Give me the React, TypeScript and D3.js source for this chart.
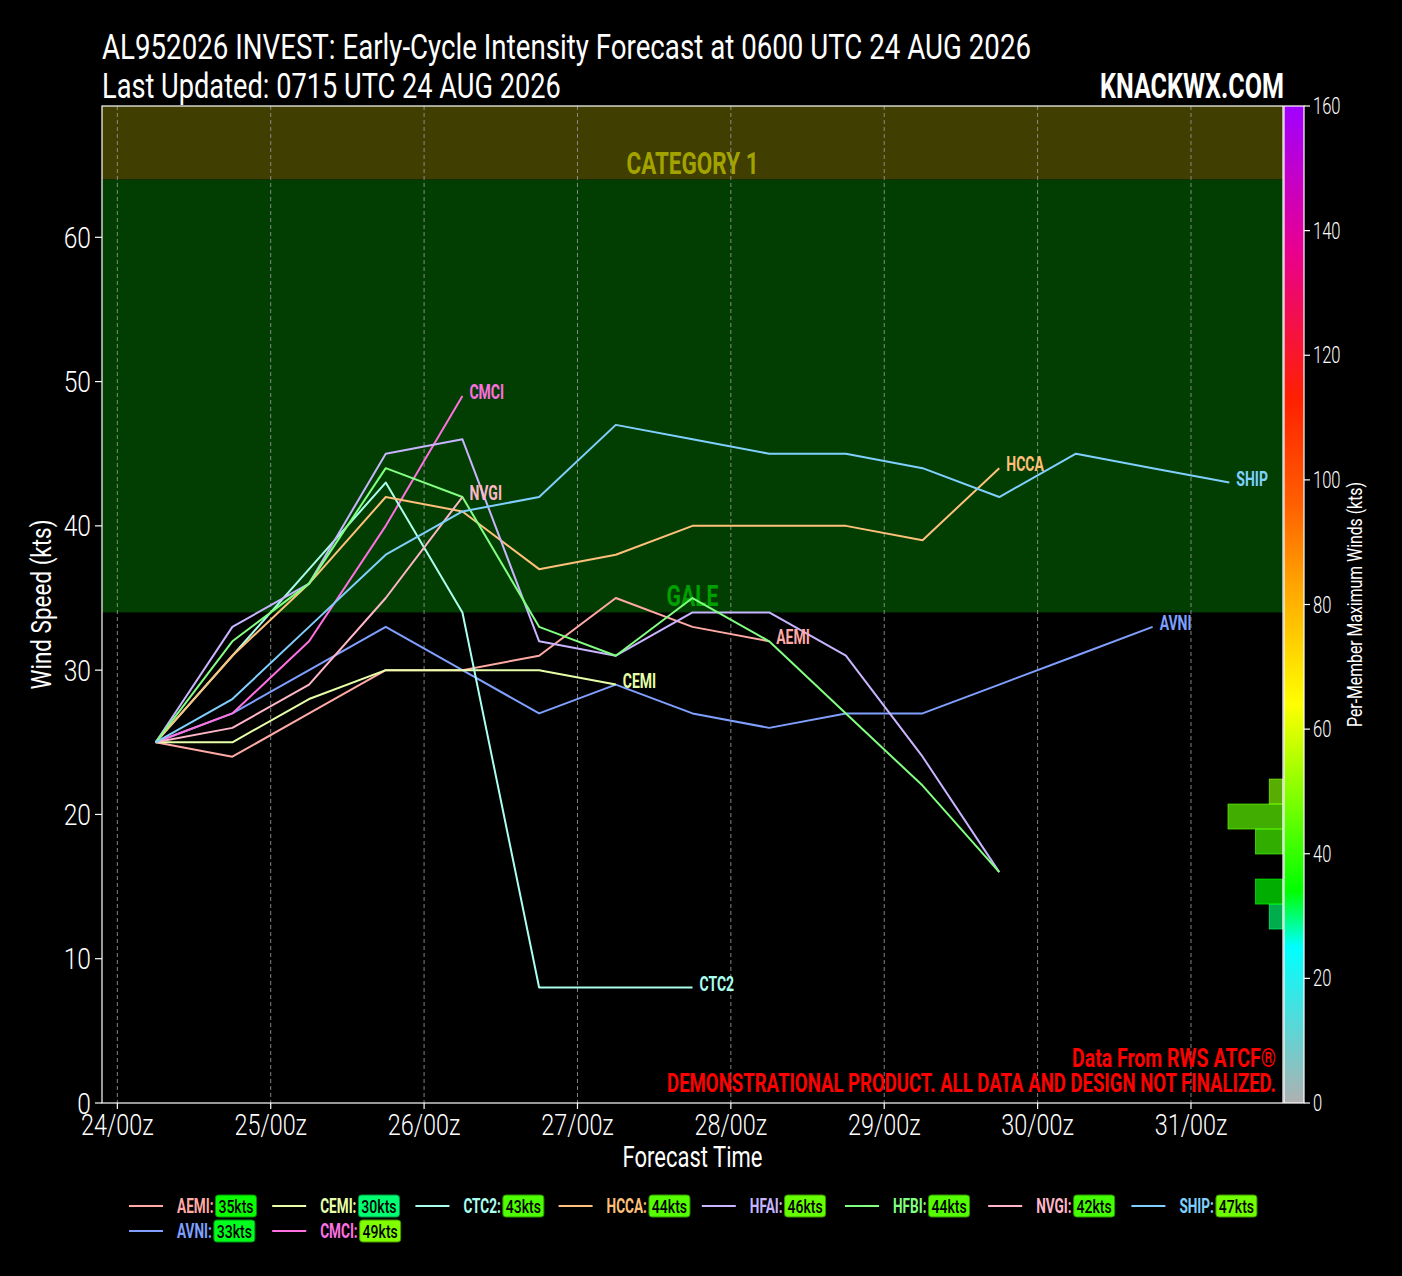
import React from "react";
import * as d3 from "d3";

// ---------- DATA ----------
const MODELS = ["AEMI", "AVNI", "CEMI", "CMCI", "CTC2", "HCCA", "HFAI", "HFBI", "NVGI", "SHIP"];
const LEAD_HOURS = [0, 12, 24, 36, 48, 60, 72, 84, 96, 108, 120, 132, 144, 156, 168];
const AEMI = [25, 24, 27, 30, 30, 31, 35, 33, 32];
const AVNI = [25, 27, 30, 33, 30, 27, 29, 27, 26, 27, 27, 29, 31, 33];
const CEMI = [25, 25, 28, 30, 30, 30, 29];
const CMCI = [25, 27, 32, 40, 49];
const CTC2 = [25, 31, 37, 43, 34, 8, 8, 8];
const HCCA = [25, 31, 36, 42, 41, 37, 38, 40, 40, 40, 39, 44];
const HFAI = [25, 33, 36, 45, 46, 32, 31, 34, 34, 31, 24, 16];
const HFBI = [25, 32, 36, 44, 42, 33, 31, 35, 32, 27, 22, 16];
const NVGI = [25, 26, 29, 35, 42];
const SHIP = [25, 28, 33, 38, 41, 42, 47, 46, 45, 45, 44, 42, 45, 44, 43];
const SERIES = [AEMI, AVNI, CEMI, CMCI, CTC2, HCCA, HFAI, HFBI, NVGI, SHIP];
const LINE_COLORS = ["#ffaaa5", "#7fa0ff", "#e6ffa8", "#ff70e0", "#aaffee", "#ffc07a", "#c8b4ff", "#80ff80", "#ffb6c8", "#80d0ff"];
const LABELED = ["AEMI", "AVNI", "CEMI", "CMCI", "CTC2", "HCCA", "NVGI", "SHIP"];

const INIT_TIME = "2026-08-24T06:00:00Z";
const Y_TICKS = [0, 10, 20, 30, 40, 50, 60];
const CB_TICKS = [0, 20, 40, 60, 80, 100, 120, 140, 160];

const GALE_KT = 34;
const CAT1_KT = 64;

// colormap stops (kts -> colour)
const CMAP_STOPS = [0, 25, 34, 64, 83, 96, 113, 137, 160];
const CMAP_COLORS = ["#b0b0b0", "#00ffff", "#00ff00", "#ffff00", "#ffa500", "#ff6000", "#ff2000", "#e80090", "#a000ff"];

// histogram on the right side (bin edges in kts, counts, mean per-member max wind)
const HIST_EDGES = [12.06, 13.79, 15.52, 17.26, 18.99, 20.72, 22.45];
const HIST_COUNTS = [1, 2, 0, 2, 4, 1];
const HIST_MEAN_WIND = [30, 34, 0, 42.5, 45.25, 49];

const TITLE1 = "AL952026 INVEST: Early-Cycle Intensity Forecast at 0600 UTC 24 AUG 2026";
const TITLE2 = "Last Updated: 0715 UTC 24 AUG 2026";

// ---------- LAYOUT ----------
const W = 1402;
const H = 1276;
const PL = 102, PR = 1283, PT = 106, PB = 1103;
const FONT = "Roboto, 'DejaVu Sans', sans-serif";
const HOUR = 3600 * 1000;

function useMeasure(text: string) {
  const ref = React.useRef<SVGTextElement>(null);
  const [len, setLen] = React.useState(0);
  React.useLayoutEffect(() => {
    const measure = () => {
      const el = ref.current;
      if (!el) return;
      const l = el.getComputedTextLength();
      if (l > 0) setLen(l);
    };
    measure();
    const f = (document as any).fonts;
    if (f && f.ready) f.ready.then(measure);
  }, [text]);
  return [ref, len] as const;
}

function FitText(props: {
  x: number; y: number; w: number; text: string; rotate?: number; anchor?: string;
  fill?: string; size: number; weight?: number;
}) {
  const { x, y, w, text, rotate = 0, anchor = "start", fill = "#fff", size, weight = 400 } = props;
  const [ref, len] = useMeasure(text);
  const s = len > 0 ? w / len : 0.7;
  return (
    <text
      ref={ref}
      transform={`translate(${x},${y})${rotate ? ` rotate(${rotate})` : ""} scale(${s},1)`}
      textAnchor={anchor as any}
      fill={fill}
      fontSize={size}
      fontWeight={weight}
    >
      {text}
    </text>
  );
}

function LegendItem(props: { x0: number; yy: number; name: string; color: string; maxWind: number; badge: string }) {
  const { x0, yy, name, color, maxWind, badge } = props;
  const label = `${name}:`;
  const SX = 0.68;
  const [ref, len] = useMeasure(label);
  const lw = len > 0 ? len * SX : 34;
  const bx = x0 + 48 + lw + 2;
  return (
    <g>
      <line x1={x0} x2={x0 + 34} y1={yy} y2={yy} stroke={color} strokeWidth={2} />
      <text ref={ref} transform={`translate(${x0 + 48},${yy + 7}) scale(${SX},1)`} fill={color} fontSize={20} fontWeight={700}>
        {label}
      </text>
      <rect x={bx} y={yy - 11} width={41} height={22} rx={3} fill={badge} stroke={d3.color(badge)!.darker(1.5).toString()} strokeWidth={1} />
      <text transform={`translate(${bx + 20.5},${yy + 7}) scale(0.74,1)`} textAnchor="middle" fill="#000" fontSize={19} fontWeight={500}>
        {`${maxWind}kts`}
      </text>
    </g>
  );
}

export default function App() {
  React.useEffect(() => {
    document.body.style.margin = "0";
    document.body.style.background = "#000";
  }, []);

  const t0 = new Date(INIT_TIME);
  const x = d3
    .scaleUtc()
    .domain([new Date(t0.getTime() - 8.4 * HOUR), new Date(t0.getTime() + 176.4 * HOUR)])
    .range([PL, PR]);
  const y = d3.scaleLinear().domain([0, 69.1]).range([PB, PT]);
  const cmap = d3.scaleLinear<string>().domain(CMAP_STOPS).range(CMAP_COLORS).clamp(true);
  const cbY = d3.scaleLinear().domain([0, 160]).range([PB, PT]);
  const histW = d3.scaleLinear().domain([0, 4]).range([0, 55]);

  const dayTicks = x.ticks(d3.utcDay.every(1) as any);
  const fmt = d3.utcFormat("%d/%Hz");

  const pts = (vals: number[]) =>
    vals.map((v, i) => [x(new Date(t0.getTime() + LEAD_HOURS[i] * HOUR)), y(v)] as [number, number]);
  const line = d3.line<[number, number]>();

  const CBX0 = 1284, CBX1 = 1304;

  return (
    <div style={{ position: "absolute", left: 0, top: 0 }}>
      <svg width={W} height={H} style={{ display: "block", background: "#000" }} fontFamily={FONT}>
        <defs>
          <linearGradient id="cbgrad" x1="0" y1="1" x2="0" y2="0">
            {CMAP_STOPS.map((s, i) => (
              <stop key={i} offset={`${(s / 160) * 100}%`} stopColor={CMAP_COLORS[i]} />
            ))}
          </linearGradient>
          <clipPath id="plotclip">
            <rect x={PL} y={PT} width={PR - PL} height={PB - PT} />
          </clipPath>
        </defs>
        <rect x={0} y={0} width={W} height={H} fill="#000" />

        {/* Titles */}
        <FitText x={PL} y={59} w={929} text={TITLE1} size={36} />
        <FitText x={PL} y={98} w={459} text={TITLE2} size={36} />
        <FitText x={1284} y={98} w={184} text="KNACKWX.COM" size={36} weight={700} anchor="end" />

        {/* Bands */}
        <g clipPath="url(#plotclip)">
          <rect x={PL} y={y(69.1)} width={PR - PL} height={y(CAT1_KT) - y(69.1)} fill="#403e00" />
          <rect x={PL} y={y(CAT1_KT)} width={PR - PL} height={y(GALE_KT) - y(CAT1_KT)} fill="#023e02" />
        </g>
        <FitText x={(PL + PR) / 2} y={y(CAT1_KT) - 6} w={132} text="CATEGORY 1" size={31} weight={700} anchor="middle" fill="#a3a300" />
        <FitText x={(PL + PR) / 2} y={y(GALE_KT) - 6} w={52} text="GALE" size={30} weight={700} anchor="middle" fill="#00a000" />

        {/* grid */}
        {dayTicks.map((d, i) => (
          <line key={i} x1={x(d)} x2={x(d)} y1={PT} y2={PB} stroke="#9a9a9a" strokeWidth={1} strokeDasharray="4,3" opacity={0.85} />
        ))}

        {/* Histogram */}
        {HIST_COUNTS.map((c, i) =>
          c > 0 ? (
            <rect
              key={i}
              x={PR - histW(c)}
              y={y(HIST_EDGES[i + 1])}
              width={histW(c)}
              height={y(HIST_EDGES[i]) - y(HIST_EDGES[i + 1])}
              fill={cmap(HIST_MEAN_WIND[i])}
              fillOpacity={0.68}
              stroke={cmap(HIST_MEAN_WIND[i])}
              strokeOpacity={0.85}
              strokeWidth={0.8}
            />
          ) : null
        )}

        {/* Lines */}
        <g clipPath="url(#plotclip)">
          {SERIES.map((vals, i) => (
            <path key={MODELS[i]} d={line(pts(vals)) || ""} fill="none" stroke={LINE_COLORS[i]} strokeWidth={2} strokeLinejoin="round" />
          ))}
        </g>
        {/* End labels */}
        {SERIES.map((vals, i) => {
          if (!LABELED.includes(MODELS[i])) return null;
          const p = pts(vals)[vals.length - 1];
          return (
            <text key={MODELS[i]} transform={`translate(${p[0] + 7},${p[1] + 3}) scale(0.7,1)`} fill={LINE_COLORS[i]} fontSize={20} fontWeight={700}>
              {MODELS[i]}
            </text>
          );
        })}

        {/* Red notes */}
        <FitText x={1276} y={1067} w={204} text="Data From RWS ATCF®" size={26} weight={700} anchor="end" fill="#ff0000" />
        <FitText x={1276} y={1092} w={609} text="DEMONSTRATIONAL PRODUCT. ALL DATA AND DESIGN NOT FINALIZED." size={26} weight={700} anchor="end" fill="#ff0000" />

        {/* Frame */}
        <rect x={PL} y={PT} width={PR - PL} height={PB - PT} fill="none" stroke="#fff" strokeWidth={1.2} />

        {/* Y axis */}
        {Y_TICKS.map((t) => (
          <g key={t}>
            <line x1={PL - 7} x2={PL} y1={y(t)} y2={y(t)} stroke="#fff" strokeWidth={1.2} />
            <text transform={`translate(91,${y(t) + 10.5}) scale(0.82,1)`} textAnchor="end" fill="#fff" fontSize={30} fontWeight={300}>
              {t}
            </text>
          </g>
        ))}
        <FitText x={51} y={(PT + PB) / 2} w={170} text="Wind Speed (kts)" size={28} rotate={-90} anchor="middle" />

        {/* X axis */}
        {dayTicks.map((d, i) => (
          <g key={i}>
            <line x1={x(d)} x2={x(d)} y1={PB} y2={PB + 6} stroke="#fff" strokeWidth={1.2} />
            <text transform={`translate(${x(d)},1135) scale(0.78,1)`} textAnchor="middle" fill="#fff" fontSize={30} fontWeight={300}>
              {fmt(d)}
            </text>
          </g>
        ))}
        <FitText x={(PL + PR) / 2} y={1167} w={140} text="Forecast Time" size={29} anchor="middle" />

        {/* Colorbar */}
        <rect x={CBX0} y={PT} width={CBX1 - CBX0} height={PB - PT} fill="url(#cbgrad)" stroke="#fff" strokeWidth={1.2} />
        {CB_TICKS.map((t) => (
          <g key={t}>
            <line x1={CBX1} x2={CBX1 + 6} y1={cbY(t)} y2={cbY(t)} stroke="#fff" strokeWidth={1.2} />
            <text transform={`translate(1313,${cbY(t) + 8}) scale(0.72,1)`} fill="#fff" fontSize={23} fontWeight={300}>
              {t}
            </text>
          </g>
        ))}
        <FitText x={1362} y={(PT + PB) / 2} w={245} text="Per-Member Maximum Winds (kts)" size={20} rotate={-90} anchor="middle" />

        {/* Legend */}
        {MODELS.map((m, i) => {
          const col = i < 4 ? Math.floor(i / 2) : i - 2;
          const row = i < 4 ? i % 2 : 0;
          const mx = d3.max(SERIES[i]) as number;
          return (
            <LegendItem
              key={m}
              x0={129 + col * 143.2}
              yy={1206 + row * 25}
              name={m}
              color={LINE_COLORS[i]}
              maxWind={mx}
              badge={cmap(mx)}
            />
          );
        })}
      </svg>
    </div>
  );
}
